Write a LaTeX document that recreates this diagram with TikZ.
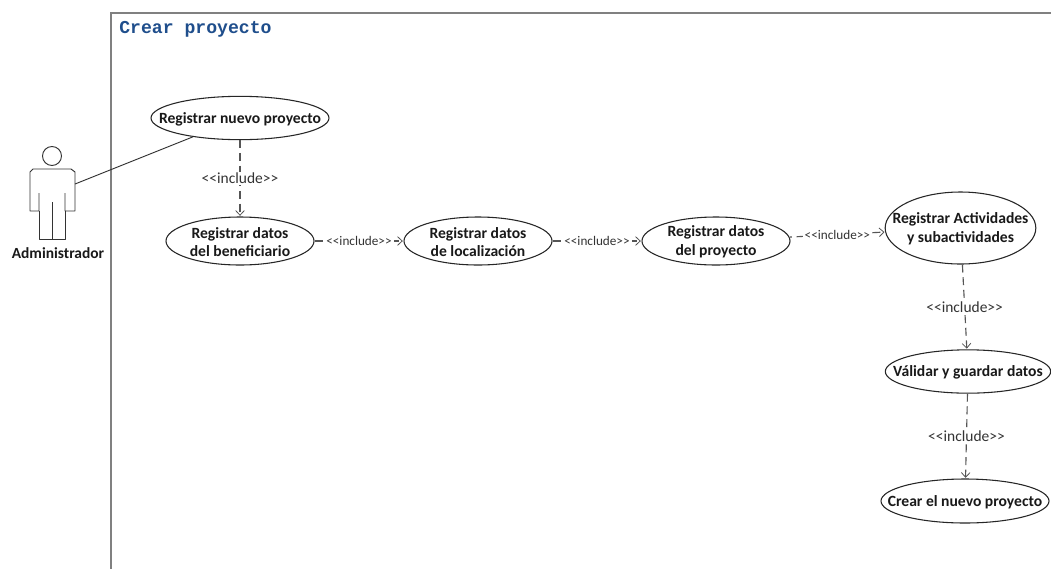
\documentclass[tikz,border=0pt]{standalone}
\usepackage{fontspec}
\setmainfont{Carlito}
\newfontfamily\titlefont{Liberation Mono}
\usetikzlibrary{shapes.geometric,arrows.meta}
\definecolor{framegray}{HTML}{808080}
\definecolor{titleblue}{HTML}{1F4E8C}
\definecolor{dashgray}{HTML}{555555}
\definecolor{labelgray}{HTML}{333333}
\tikzset{
  x=0.75pt,y=-0.75pt,
  usecase/.style={draw=black!85,line width=0.8pt,ellipse,inner sep=0pt,fill=white},
  uctext/.style={font=\fontsize{11.7}{14.1}\selectfont\bfseries,align=center,text=black!90,inner sep=0pt,yshift=-0.8pt},
  includeline/.style={draw=dashgray,line width=0.85pt,dash pattern=on 6pt off 3.5pt,-{Straight Barb[length=3.5pt,width=6.5pt,line width=0.6pt]},shorten >=0.5pt},
  inclabel/.style={font=\fontsize{11.6}{13}\selectfont,text=labelgray,fill=white,inner sep=1pt},
  inclabelsmall/.style={font=\fontsize{9.9}{11}\selectfont,text=labelgray,fill=white,inner sep=1.5pt},
  actorline/.style={draw=black!80,line width=0.7pt,line join=round},
}
\begin{document}
\begin{tikzpicture}
\useasboundingbox[fill=white] (0,0) rectangle (1051,569);
% frame
\draw[framegray,line width=1.1pt] (1051,13) -- (111,13) -- (111,569);
\node[anchor=west,inner sep=0pt,text=titleblue,font=\titlefont\fontsize{13.6}{16}\selectfont\bfseries] (title) at (119,29) {Crear proyecto};
% use cases
\node[usecase,minimum width=133.5pt,minimum height=32.5pt,label={[uctext]center:Registrar nuevo proyecto}] (r1) at (240,118) {};
\node[usecase,minimum width=111pt,minimum height=36pt,label={[uctext]center:Registrar datos\\del beneficiario}] (r2) at (240,241) {};
\node[usecase,minimum width=111pt,minimum height=36pt,label={[uctext]center:Registrar datos\\de localización}] (r3) at (478,241) {};
\node[usecase,minimum width=111pt,minimum height=36pt,label={[uctext]center:Registrar datos\\del proyecto}] (r4) at (716,241) {};
\node[usecase,minimum width=113pt,minimum height=54pt,label={[uctext]center:Registrar Actividades\\y subactividades}] (r5) at (960.5,228) {};
\node[usecase,minimum width=124pt,minimum height=32.5pt,label={[uctext]center:Válidar y guardar datos}] (r6) at (968,371.5) {};
\node[usecase,minimum width=126pt,minimum height=33pt,label={[uctext]center:Crear el nuevo proyecto}] (r7) at (965,501) {};
% actor
\draw[actorline] (52,156) circle[radius=9.5];
\draw[actorline] (39,193) -- (39,211) -- (30,211) -- (30,172) -- (33,169) -- (71,169) -- (75,172) -- (75,211) -- (65,211) -- (65,193);
\draw[actorline] (39,211) -- (39,239) -- (65,239) -- (65,211);
\draw[actorline] (52,202) -- (52,239);
\coordinate (hand) at (75,184);
\node[font=\fontsize{11.6}{13}\selectfont\bfseries,text=black!90,inner sep=0pt] (admin) at (58,253) {Administrador};
% connectors
\draw[actorline] (hand) -- (r1);
\draw[includeline] (r1) -- node[inclabel] (l1) {<{}<include>{}>} (r2);
\draw[includeline] (r2) -- node[inclabelsmall,pos=0.5] (l2) {<{}<include>{}>} (r3);
\draw[includeline] (r3) -- node[inclabelsmall] (l3) {<{}<include>{}>} (r4);
\draw[includeline,dash phase=4.25pt] (r4) -- node[inclabelsmall,pos=0.5] (l4) {<{}<include>{}>} (r5);
\draw[includeline] (r5) -- node[inclabel] (l5) {<{}<include>{}>} (r6);
\draw[includeline] (r6) -- node[inclabel] (l6) {<{}<include>{}>} (r7);
\end{tikzpicture}
\end{document}
